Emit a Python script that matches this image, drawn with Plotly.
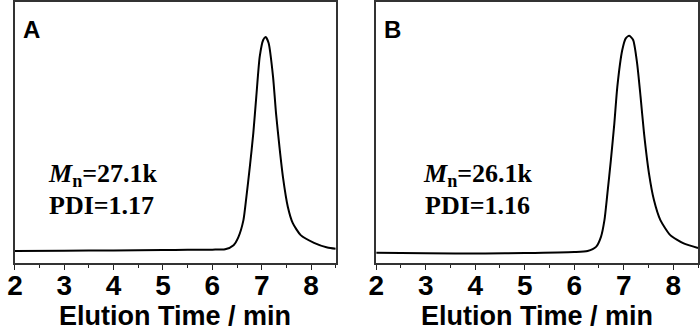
import plotly.graph_objects as go

# GPC traces (normalised detector response vs elution time)
time_a = [2.0, 3.0, 4.0, 5.0, 5.5, 6.0, 6.26, 6.43, 6.53, 6.63, 6.69, 6.76, 6.83, 6.89, 6.96,
          7.03, 7.08, 7.14, 7.23, 7.29, 7.36, 7.43, 7.53, 7.63, 7.79, 8.06, 8.33, 8.5]
resp_a = [-0.001, 0.0, 0.001, 0.003, 0.004, 0.005, 0.007, 0.026, 0.065, 0.143, 0.252, 0.393,
          0.550, 0.720, 0.908, 0.986, 1.0, 0.972, 0.814, 0.644, 0.486, 0.346, 0.205, 0.129,
          0.073, 0.037, 0.015, 0.009]

time_b = [2.0, 3.0, 4.2, 5.0, 6.0, 6.27, 6.44, 6.54, 6.61, 6.67, 6.74, 6.81, 6.87, 6.97, 7.04,
          7.11, 7.19, 7.27, 7.34, 7.41, 7.51, 7.61, 7.74, 7.94, 8.21, 8.5]
resp_b = [-0.010, -0.012, -0.013, -0.011, -0.006, -0.001, 0.018, 0.065, 0.143, 0.268, 0.424,
          0.596, 0.767, 0.939, 0.994, 1.006, 0.986, 0.877, 0.720, 0.549, 0.361, 0.237, 0.143,
          0.073, 0.034, 0.013]

panel_labels = ["A", "B"]
mn_values = ["27.1k", "26.1k"]
pdi_values = ["1.17", "1.16"]
x_title = "Elution Time / min"
tick_vals = [2, 3, 4, 5, 6, 7, 8]
x_range = [2, 8.5]

W, H = 700, 330
dom_a = [7 / W, 332 / W]
dom_b = [373 / W, 699 / W]
y_dom = [(H - 263) / H, (H - 1) / H]
y_range = [-0.0585, 1.164]
label_pos = (H - 263 - 3) / H   # tick-number row sits just under the frame

fig = go.Figure()
fig.add_trace(go.Scatter(x=time_a, y=resp_a, mode="lines", line=dict(color="black", width=2, shape="spline", smoothing=0.6),
                         xaxis="x", yaxis="y", showlegend=False))
fig.add_trace(go.Scatter(x=time_b, y=resp_b, mode="lines", line=dict(color="black", width=2, shape="spline", smoothing=0.6),
                         xaxis="x2", yaxis="y2", showlegend=False))
# empty traces so the tick-number axes get drawn
fig.add_trace(go.Scatter(x=[None], y=[None], xaxis="x3", yaxis="y", showlegend=False, hoverinfo="skip"))
fig.add_trace(go.Scatter(x=[None], y=[None], xaxis="x4", yaxis="y2", showlegend=False, hoverinfo="skip"))

sans = "Liberation Sans, Arial, sans-serif"
serif = "Liberation Serif, Times New Roman, serif"
tick_font = dict(family=sans, size=28, color="black", weight="bold")

# frame axes: line, major/minor tick marks, no numbers
xframe = dict(range=x_range, tickvals=tick_vals, ticks="outside", ticklen=5, tickwidth=1.2,
              tickcolor="#222", showline=True, linecolor="#333", linewidth=1.5, mirror=True,
              showgrid=False, zeroline=False, showticklabels=False,
              minor=dict(dtick=0.5, ticks="outside", ticklen=3, tickwidth=1.2, tickcolor="#222"))
# number axes: tick numbers only
xlabels = dict(range=x_range, tickvals=tick_vals, ticks="", showline=False, showgrid=False,
               zeroline=False, tickfont=tick_font, anchor="free", position=label_pos)
ycommon = dict(range=y_range, domain=y_dom, showline=True, linecolor="#333", linewidth=1.5,
               mirror=True, showticklabels=False, ticks="", showgrid=False, zeroline=False)

fig.update_layout(
    width=W, height=H, margin=dict(l=0, r=0, t=0, b=0),
    paper_bgcolor="white", plot_bgcolor="white",
    xaxis=dict(domain=dom_a, anchor="y", **xframe),
    xaxis2=dict(domain=dom_b, anchor="y2", **xframe),
    xaxis3=dict(domain=dom_a, overlaying="x", **xlabels),
    xaxis4=dict(domain=dom_b, overlaying="x2", **xlabels),
    yaxis=dict(anchor="x", **ycommon),
    yaxis2=dict(anchor="x2", **ycommon),
)

ann = []
for i, (dom, lab, mn, pdi) in enumerate(zip([dom_a, dom_b], panel_labels, mn_values, pdi_values)):
    xref = "x" if i == 0 else "x2"
    yref = "y" if i == 0 else "y2"
    cx = (dom[0] + dom[1]) / 2
    ann.append(dict(text=x_title, xref="paper", yref="paper", x=cx, y=0, yshift=-3,
                    showarrow=False, xanchor="center", yanchor="bottom",
                    font=dict(family=sans, size=27, color="black", weight="bold")))
    ann.append(dict(text=lab, xref=f"{xref} domain", yref=f"{yref} domain", x=0.018, y=0.955,
                    showarrow=False, xanchor="left", yanchor="top",
                    font=dict(family=sans, size=24, color="black", weight="bold")))
    off = 0.0 if i == 0 else 0.28
    ann.append(dict(text="<b><i>M</i><sub>n</sub>=" + mn + "</b>", xref=xref, yref=yref,
                    x=2.62 + off, y=0.355, showarrow=False, xanchor="left", yanchor="middle",
                    font=dict(family=serif, size=26, color="black")))
    ann.append(dict(text="<b>PDI=" + pdi + "</b>", xref=xref, yref=yref,
                    x=2.66 + off, y=0.213, showarrow=False, xanchor="left", yanchor="middle",
                    font=dict(family=serif, size=26, color="black")))
fig.update_layout(annotations=ann)

fig.write_html("out.html")
